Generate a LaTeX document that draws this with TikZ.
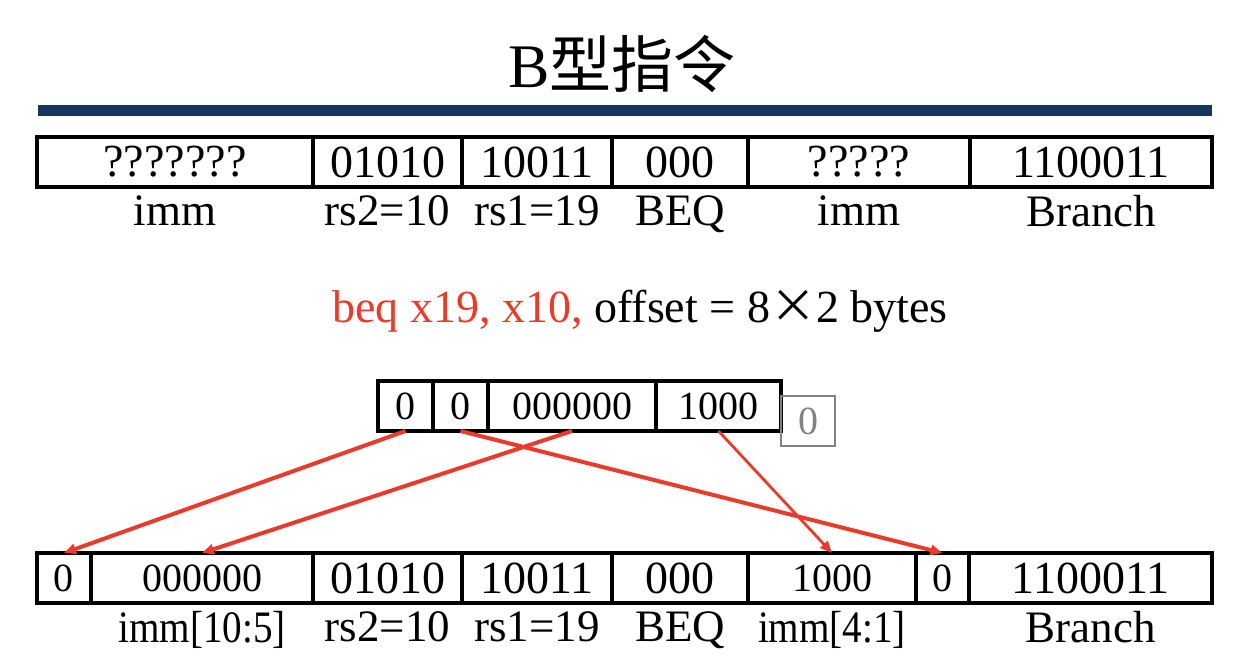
\documentclass[tikz,border=0pt]{standalone}
\usepackage{fontspec}
\usepackage{graphicx}
\setmainfont{Liberation Serif}
\newfontfamily\cjk{Noto Sans CJK SC}
\usetikzlibrary{positioning,arrows.meta}
\definecolor{barblue}{RGB}{23,54,93}
\definecolor{arrowred}{RGB}{234,59,42}
\definecolor{boxgray}{RGB}{130,130,130}
\newcommand{\narrow}[1]{\scalebox{0.87}[1]{#1}}
\tikzset{
  field/.style={draw, line width=2pt, outer sep=0pt, inner sep=0pt,
    minimum height=25pt, font=\fontsize{20}{20}\selectfont},
  bigfield/.style={field, font=\fontsize{23}{23}\selectfont},
  fieldname/.style={font=\fontsize{22.5}{22.5}\selectfont, inner sep=0pt},
  move/.style={draw=arrowred, line width=2pt,
    -{Triangle[length=6pt,width=5pt]}}
}
\begin{document}
\begin{tikzpicture}[x=0.5pt,y=-0.5pt]
    \useasboundingbox (0,0) rectangle (1236,664);

    % title and bar
    \node (title) at (622,64) {\fontsize{31}{31}\selectfont B{\cjk 型指令}};
    \fill[barblue] (38,105) rectangle (1212,116);

    % first encoding, unknown immediate
    \node[bigfield, minimum width=138pt, anchor=west] (timmhi) at (37,162) {???????};
    \node[bigfield, minimum width=74.5pt, right=0pt of timmhi] (trstwo) {01010};
    \node[bigfield, minimum width=75pt, right=0pt of trstwo] (trsone) {10011};
    \node[bigfield, minimum width=68pt, right=0pt of trsone] (tfunct) {000};
    \node[bigfield, minimum width=111pt, right=0pt of tfunct] (timmlo) {?????};
    \node[bigfield, minimum width=121pt, right=0pt of timmlo] (topcode) {1100011};

    \foreach \n/\t in {timmhi/imm, trstwo/rs2=10, trsone/rs1=19,
                       tfunct/BEQ, timmlo/imm, topcode/Branch}{%
      \node[fieldname, below=4pt of \n.south] {\t};
    }

    % the instruction
    \node (asm) at (640,311) {\fontsize{23}{23}\selectfont
      \textcolor{arrowred}{beq x19, x10,} offset = 8{\cjk ×}2 bytes};

    % offset bits
    \node[field, minimum width=27.5pt, anchor=west] (mtwelve) at (378,406) {0};
    \node[field, minimum width=27.5pt, right=0pt of mtwelve] (meleven) {0};
    \node[field, minimum width=84pt, right=0pt of meleven] (mmid) {000000};
    \node[field, minimum width=62.5pt, right=0pt of mmid] (mlow) {1000};
    \node[field, draw=boxgray, text=boxgray, line width=1.3pt,
          minimum width=27pt] (mzero) at (808,421) {0};

    % final encoding
    \node[field, minimum width=27pt, anchor=west] (btwelve) at (37,578) {0};
    \node[field, minimum width=111pt, right=0pt of btwelve] (bmid) {000000};
    \node[bigfield, minimum width=74.5pt, right=0pt of bmid] (brstwo) {01010};
    \node[bigfield, minimum width=75pt, right=0pt of brstwo] (brsone) {10011};
    \node[bigfield, minimum width=68pt, right=0pt of brsone] (bfunct) {000};
    \node[field, minimum width=84pt, right=0pt of bfunct] (blow) {1000};
    \node[field, minimum width=26.5pt, right=0pt of blow] (beleven) {0};
    \node[bigfield, minimum width=121.5pt, right=0pt of beleven] (bopcode) {1100011};

    \foreach \n/\t in {bmid/\narrow{imm[10:5]}, brstwo/rs2=10, brsone/rs1=19,
                       bfunct/BEQ, blow/\narrow{imm[4:1]}, bopcode/Branch}{%
      \node[fieldname, below=4pt of \n.south] {\t};
    }

    % bit moves
    \draw[move] (mtwelve.south) -- (btwelve.north);
    \draw[move] (meleven.south) -- (beleven.north);
    \draw[move] (mmid.south) -- (bmid.north);
    \draw[move, line width=1.4pt] (mlow.south) -- (blow.north);
\end{tikzpicture}
\end{document}
